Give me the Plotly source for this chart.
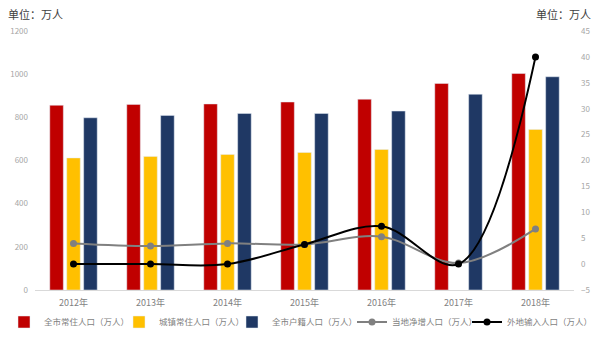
import plotly.graph_objects as go

years = ["2012年", "2013年", "2014年", "2015年", "2016年", "2017年", "2018年"]
total_resident = [856, 860, 862, 871, 884, 957, 1003]
urban_resident = [612, 619, 628, 637, 651, None, 744]
registered = [798, 809, 818, 818, 829, 907, 988]
local_net = [4.0, 3.5, 4.0, 3.8, 5.3, 0.2, 6.8]
external_in = [0.0, 0.0, 0.0, 3.8, 7.3, 0.0, 40.0]

FONT = "Noto Sans CJK SC"
fig = go.Figure()
fig.add_trace(go.Bar(x=years, y=total_resident, name="全市常住人口（万人）", marker_color="#C00000",
                     legend="legend"))
fig.add_trace(go.Bar(x=years, y=urban_resident, name="城镇常住人口（万人）", marker_color="#FFC000",
                     legend="legend2"))
fig.add_trace(go.Bar(x=years, y=registered, name="全市户籍人口（万人）", marker_color="#1F3864",
                     legend="legend3"))
fig.add_trace(go.Scatter(x=years, y=local_net, name="当地净增人口（万人）", yaxis="y2", legend="legend4",
                         mode="lines+markers", line=dict(color="#808080", width=2, shape="spline", smoothing=1),
                         marker=dict(size=7, color="#808080")))
fig.add_trace(go.Scatter(x=years, y=external_in, name="外地输入人口（万人）", yaxis="y2", legend="legend5",
                         mode="lines+markers", line=dict(color="#000000", width=2, shape="spline", smoothing=1),
                         marker=dict(size=7, color="#000000")))

def leg(left_px):
    return dict(orientation="h", xref="container", yref="container", x=left_px / 600, xanchor="left",
                y=1 - 322 / 337, yanchor="middle", font=dict(size=8.5, color="#7f7f7f"),
                itemwidth=30, borderwidth=0, bgcolor="rgba(0,0,0,0)")

fig.update_layout(
    width=600, height=337,
    margin=dict(l=35, r=26, t=31, b=47, autoexpand=False),
    paper_bgcolor="white", plot_bgcolor="white",
    font=dict(family=FONT, color="#7f7f7f", size=9),
    barmode="group", bargap=0.34, bargroupgap=0.2,
    showlegend=True,
    legend=leg(4), legend2=leg(119), legend3=leg(232), legend4=leg(352), legend5=leg(467),
    xaxis=dict(showgrid=False, showline=True, linecolor="#d9d9d9", linewidth=1,
               tickfont=dict(size=9, color="#7f7f7f"), ticks="", ticklabelstandoff=4),
    yaxis=dict(range=[0, 1200], dtick=200, showgrid=False, zeroline=False, showline=False,
               tickfont=dict(size=8, color="#a6a6a6"), ticklabelstandoff=6),
    yaxis2=dict(range=[-5, 45], dtick=5, overlaying="y", side="right", showgrid=False,
                zeroline=False, showline=False, tickfont=dict(size=8, color="#a6a6a6"),
                ticklabelstandoff=6),
    annotations=[
        dict(text="单位：万人", xref="paper", yref="paper", x=0, y=1, xshift=-29, yshift=17,
             xanchor="left", yanchor="middle", showarrow=False, font=dict(size=11, color="#404040")),
        dict(text="单位：万人", xref="paper", yref="paper", x=1, y=1, xshift=19, yshift=17,
             xanchor="right", yanchor="middle", showarrow=False, font=dict(size=11, color="#404040")),
    ],
)
fig.write_html("out.html")
